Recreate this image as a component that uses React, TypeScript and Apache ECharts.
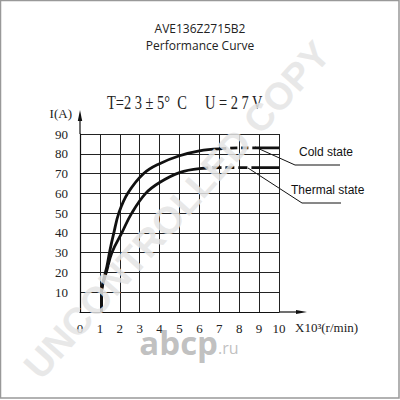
import React, { useEffect, useRef } from "react";
import * as echarts from "echarts";

const titleText = "AVE136Z2715B2";
const subTitleText = "Performance Curve";
const conditionText = "T=2 3 ± 5°  C     U = 2 7 V";
const xTicks = [0, 1, 2, 3, 4, 5, 6, 7, 8, 9, 10];
const yTicks = [10, 20, 30, 40, 50, 60, 70, 80, 90];

const startX = [1.08, 1.08, 1.1];
const startY = [0, 10, 12];

const coldX = [1.1, 1.2, 1.35, 1.5, 1.7, 1.95, 2.4, 3.2, 4, 5, 6, 7, 8, 9, 10];
const coldY = [12, 17, 23, 31, 40, 50, 60, 70, 75, 79, 81.5, 82.5, 83, 83, 83];

const thermalX = [1.1, 1.2, 1.35, 1.6, 2.1, 2.6, 3.3, 4, 5, 6, 7, 8, 9, 10];
const thermalY = [12, 16, 21, 30, 40, 50, 60, 65.5, 70.5, 72.5, 73, 73, 73, 73];

const pairs = (xs: number[], ys: number[]) => xs.map((x, i) => [x, ys[i]]);
const segment = (xs: number[], ys: number[], from: number, to: number) =>
  pairs(xs, ys).filter((p) => p[0] >= from && p[0] <= to);

export default function App() {
  const ref = useRef<HTMLDivElement>(null);
  useEffect(() => {
    document.body.style.margin = "0";
    const chart = echarts.init(ref.current!, null, { renderer: "svg" });
    const lineStyle = { color: "#111", width: 2.8 };
    const serif = "Liberation Serif";
    chart.setOption({
      animation: false,
      backgroundColor: "#fff",
      title: {
        text: titleText,
        subtext: subTitleText,
        left: "center",
        top: 17,
        itemGap: 5,
        textStyle: { fontFamily: "Open Sans", fontSize: 12, fontWeight: "normal", color: "#222" },
        subtextStyle: { fontFamily: "Open Sans", fontSize: 12, color: "#222" },
      },
      grid: { left: 80, right: 121, top: 134, bottom: 88 },
      xAxis: {
        type: "value",
        min: 0,
        max: 10,
        interval: 1,
        axisLine: { show: true, lineStyle: { color: "#111", width: 1.2 } },
        axisTick: { show: false },
        axisLabel: {
          margin: 10,
          fontFamily: serif,
          fontSize: 13,
          color: "#222",
          formatter: (v: number) => (xTicks.includes(v) ? String(v) : ""),
        },
        splitLine: { show: true, lineStyle: { color: "#222", width: 1 } },
      },
      yAxis: {
        type: "value",
        min: 0,
        max: 90,
        interval: 10,
        axisLine: { show: true, lineStyle: { color: "#111", width: 1.2 } },
        axisTick: { show: false },
        axisLabel: {
          margin: 12,
          fontFamily: serif,
          fontSize: 13,
          color: "#222",
          formatter: (v: number) => (yTicks.includes(v) ? String(v) : ""),
        },
        splitLine: { show: true, lineStyle: { color: "#222", width: 1 } },
      },
      series: [
        { type: "line", data: pairs(startX, startY), showSymbol: false, lineStyle: { ...lineStyle, width: 3 } },
        { type: "line", data: segment(coldX, coldY, 0, 7.2), smooth: 0.4, showSymbol: false, lineStyle },
        { type: "line", data: segment(coldX, coldY, 7, 9), smooth: 0.4, showSymbol: false, lineStyle: { ...lineStyle, type: [7, 4] } },
        { type: "line", data: segment(coldX, coldY, 9, 10), showSymbol: false, lineStyle },
        { type: "line", data: segment(thermalX, thermalY, 0, 6.2), smooth: 0.4, showSymbol: false, lineStyle },
        { type: "line", data: segment(thermalX, thermalY, 6, 9), smooth: 0.4, showSymbol: false, lineStyle: { ...lineStyle, type: [9, 4] } },
        { type: "line", data: segment(thermalX, thermalY, 9, 10), showSymbol: false, lineStyle },
      ],
      graphic: [
        { type: "rect", shape: { x: 0.5, y: 0.5, width: 398.5, height: 397.5 }, style: { fill: "none", stroke: "#999", lineWidth: 1.5 }, silent: true },
        // axis extensions with arrows
        { type: "line", shape: { x1: 80, y1: 134, x2: 80, y2: 116 }, style: { stroke: "#111", lineWidth: 1.2 } },
        { type: "polygon", shape: { points: [[80, 110], [77.8, 121], [82.2, 121]] }, style: { fill: "#111" } },
        { type: "line", shape: { x1: 279, y1: 312, x2: 300, y2: 312 }, style: { stroke: "#111", lineWidth: 1.2 } },
        { type: "polygon", shape: { points: [[307, 312], [296, 310], [296, 314]] }, style: { fill: "#111" } },
        { type: "text", x: 72, y: 113, style: { text: "I(A)", fontFamily: serif, fontSize: 13, fill: "#222", textAlign: "right", textVerticalAlign: "middle" } },
        { type: "text", x: 295, y: 327, style: { text: "X10³(r/min)", fontFamily: serif, fontSize: 13, fill: "#222", textAlign: "left", textVerticalAlign: "middle" } },
        { type: "text", x: 107, y: 103, scaleX: 0.76, style: { text: conditionText, fontFamily: serif, fontSize: 19, fill: "#222", textAlign: "left", textVerticalAlign: "middle" } },
        // annotations
        { type: "line", shape: { x1: 255, y1: 147, x2: 295, y2: 165 }, style: { stroke: "#111", lineWidth: 1 } },
        { type: "line", shape: { x1: 295, y1: 165, x2: 340, y2: 165 }, style: { stroke: "#111", lineWidth: 1 } },
        { type: "text", x: 299, y: 152, style: { text: "Cold state", fontFamily: "Liberation Sans", fontSize: 12, fill: "#111", textAlign: "left", textVerticalAlign: "middle" } },
        { type: "line", shape: { x1: 248, y1: 168, x2: 302, y2: 203 }, style: { stroke: "#111", lineWidth: 1 } },
        { type: "line", shape: { x1: 302, y1: 203, x2: 341, y2: 203 }, style: { stroke: "#111", lineWidth: 1 } },
        { type: "text", x: 291, y: 190, style: { text: "Thermal state", fontFamily: "Liberation Sans", fontSize: 12, fill: "#111", textAlign: "left", textVerticalAlign: "middle" } },
        // watermarks
        { type: "text", x: 218, y: 342, z: 100, style: { text: "abcp", fontFamily: "Open Sans", fontWeight: "bold", fontSize: 33, fill: "rgba(185,185,185,0.9)", textAlign: "right", textVerticalAlign: "middle" } },
        { type: "text", x: 218, y: 348, z: 100, style: { text: ".ru", fontFamily: "Open Sans", fontSize: 16, fill: "rgba(185,185,185,0.9)", textAlign: "left", textVerticalAlign: "middle" } },
        { type: "text", x: 177, y: 210, rotation: 0.84, z: 100, style: { text: "UNCONTROLLED COPY", fontFamily: "Liberation Sans", fontWeight: "bold", fontSize: 38, fill: "rgba(228,228,228,0.85)", textAlign: "center", textVerticalAlign: "middle" } },
      ],
    });
    return () => chart.dispose();
  }, []);
  return <div ref={ref} style={{ width: 400, height: 400 }} />;
}
